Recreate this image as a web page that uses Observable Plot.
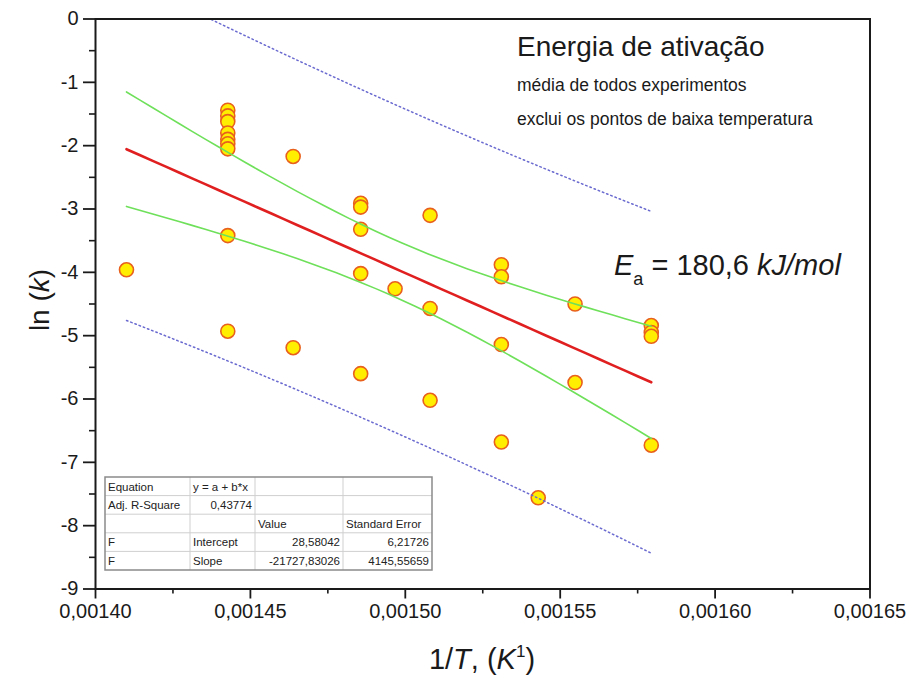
<!DOCTYPE html>
<html>
<head>
<meta charset="utf-8">
<script src="https://cdn.jsdelivr.net/npm/d3@7"></script>
<script src="https://cdn.jsdelivr.net/npm/@observablehq/plot@0.6"></script>
<style>
  html, body { margin: 0; padding: 0; background: #fff; }
  #chart svg { display: block; }
</style>
</head>
<body>
<div id="chart"></div>
<script>
// ---- data ----
const invT = [0.0014100, 0.0014427, 0.0014638, 0.0014856, 0.0014967, 0.0015080, 0.0015310, 0.0015429, 0.0015548, 0.0015794];
const lnK = [
  [-3.96],
  [-1.44, -1.53, -1.62, -1.80, -1.90, -1.97, -2.05, -3.42, -4.93],
  [-2.17, -5.19],
  [-2.91, -2.97, -3.32, -4.02, -5.60],
  [-4.26],
  [-3.10, -4.57, -6.02],
  [-3.88, -4.07, -5.14, -6.68],
  [-7.56],
  [-4.50, -5.74],
  [-4.84, -4.95, -5.01, -6.73]
];
const fitParams = ["Intercept", "Slope"];
const fitValues = [28.58042, -21727.83026];
const fitErrors = [6.21726, 4145.55659];
const adjR2 = 0.43774;
const xMajor = [0.00140, 0.00145, 0.00150, 0.00155, 0.00160, 0.00165];
const xMinor = [0.001425, 0.001475, 0.001525, 0.001575, 0.001625];
const yMajor = [0, -1, -2, -3, -4, -5, -6, -7, -8, -9];
const yMinor = [-0.5, -1.5, -2.5, -3.5, -4.5, -5.5, -6.5, -7.5, -8.5];
const tCrit = 2.042; // 95%, df = 30

// ---- derived ----
const points = invT.flatMap((x, i) => lnK[i].map(y => ({x, y})));
const n = points.length;
const [a, b] = fitValues;
const xbar = d3.mean(points, d => d.x);
const Sxx = d3.sum(points, d => (d.x - xbar) ** 2);
const s = Math.sqrt(d3.sum(points, d => (d.y - (a + b * d.x)) ** 2) / (n - 2));
const xMin = d3.min(invT), xMax = d3.max(invT);
const xs = d3.range(0, 41).map(i => xMin + (xMax - xMin) * i / 40);
const band = xs.map(x => {
  const yh = a + b * x;
  const c = tCrit * s * Math.sqrt(1 / n + (x - xbar) ** 2 / Sxx);
  const p = tCrit * s * Math.sqrt(1 + 1 / n + (x - xbar) ** 2 / Sxx);
  return {x, yh, cl: yh - c, cu: yh + c, pl: yh - p, pu: yh + p};
});

const font = "'Liberation Sans', Arial, sans-serif";
const fmtX = d => d3.format(".5f")(d).replace(".", ",");

const plot = Plot.plot({
  width: 915,
  height: 684,
  marginLeft: 95,
  marginRight: 45.5,
  marginTop: 18.5,
  marginBottom: 95.5,
  style: {fontFamily: font, fontSize: "20px", color: "#1a1a1a", background: "#fff"},
  x: {domain: [0.0014, 0.00165]},
  y: {domain: [-9, 0]},
  marks: [
    Plot.axisX({ticks: xMinor, tickSize: 5, tickFormat: () => "", label: null, strokeWidth: 1.6}),
    Plot.axisX({ticks: xMajor, tickSize: 10, tickPadding: 5, tickFormat: fmtX, label: null, fontSize: 20, strokeWidth: 1.8}),
    Plot.axisY({ticks: yMinor, tickSize: 6, tickFormat: () => "", label: null, strokeWidth: 1.6}),
    Plot.axisY({ticks: yMajor, tickSize: 12, tickPadding: 5, tickFormat: d => String(d), label: null, fontSize: 20, strokeWidth: 1.8}),
    Plot.dot(points, {x: "x", y: "y", r: 7, fill: "#ffee00", stroke: "#e8601c", strokeWidth: 1.6}),
    Plot.line(band, {x: "x", y: "pu", stroke: "#6a6ad0", strokeWidth: 1.5, strokeDasharray: "1.5,3", clip: true}),
    Plot.line(band, {x: "x", y: "pl", stroke: "#6a6ad0", strokeWidth: 1.5, strokeDasharray: "1.5,3", clip: true}),
    Plot.line(band, {x: "x", y: "cu", stroke: "#6ee05a", strokeWidth: 1.6}),
    Plot.line(band, {x: "x", y: "cl", stroke: "#6ee05a", strokeWidth: 1.6}),
    Plot.line(band, {x: "x", y: "yh", stroke: "#e02020", strokeWidth: 2.6}),
    Plot.frame({stroke: "#1a1a1a", strokeWidth: 2})
  ]
});

const svg = d3.select(plot);

// axis titles
const yT = svg.append("text")
  .attr("transform", "translate(49,300) rotate(-90)")
  .attr("text-anchor", "middle")
  .attr("font-family", font).attr("font-size", 28).attr("fill", "#1a1a1a");
yT.append("tspan").text("ln (");
yT.append("tspan").attr("font-style", "italic").text("k");
yT.append("tspan").text(")");

const xT = svg.append("text")
  .attr("x", 482).attr("y", 669)
  .attr("text-anchor", "middle")
  .attr("font-family", font).attr("font-size", 29).attr("fill", "#1a1a1a");
xT.append("tspan").text("1/");
xT.append("tspan").attr("font-style", "italic").text("T");
xT.append("tspan").text(", (");
xT.append("tspan").attr("font-style", "italic").text("K");
xT.append("tspan").attr("font-size", 17).attr("dy", -12).text("1");
xT.append("tspan").attr("dy", 12).text(")");

// annotations
svg.append("text").attr("x", 517).attr("y", 56).attr("text-anchor", "start")
  .attr("font-family", font).attr("font-size", 28).attr("fill", "#1a1a1a")
  .text("Energia de ativação");
svg.append("text").attr("x", 517).attr("y", 91).attr("text-anchor", "start")
  .attr("font-family", font).attr("font-size", 17.5).attr("fill", "#1a1a1a")
  .text("média de todos experimentos");
svg.append("text").attr("x", 517).attr("y", 125).attr("text-anchor", "start")
  .attr("font-family", font).attr("font-size", 17.5).attr("fill", "#1a1a1a")
  .text("exclui os pontos de baixa temperatura");

const ea = svg.append("text").attr("x", 614).attr("y", 275).attr("text-anchor", "start")
  .attr("font-family", font).attr("font-size", 29).attr("fill", "#1a1a1a");
ea.append("tspan").attr("font-style", "italic").text("E");
ea.append("tspan").attr("font-size", 18).attr("dy", 10).text("a");
ea.append("tspan").attr("dy", -10).text(" = 180,6 ");
ea.append("tspan").attr("font-style", "italic").text("kJ/mol");

// results table
const tbl = svg.append("g").attr("font-family", font).attr("font-size", 11.5).attr("fill", "#222");
const colX = [105, 190, 255, 343, 432];
const rowH = 18.6;
const y0 = 477;
const fmt5 = v => d3.format(".5f")(v).replace(".", ",").replace("−", "-");
const rows = [
  [["Equation", "l"], ["y = a + b*x", "l"], ["", "l"], ["", "l"]],
  [["Adj. R-Square", "l"], [fmt5(adjR2), "r"], ["", "l"], ["", "l"]],
  [["", "l"], ["", "l"], ["Value", "l"], ["Standard Error", "l"]],
  [["F", "l"], [fitParams[0], "l"], [fmt5(fitValues[0]), "r"], [fmt5(fitErrors[0]), "r"]],
  [["F", "l"], [fitParams[1], "l"], [fmt5(fitValues[1]), "r"], [fmt5(fitErrors[1]), "r"]]
];
tbl.append("rect").attr("x", colX[0]).attr("y", y0).attr("width", colX[4] - colX[0]).attr("height", rowH * 5)
  .attr("fill", "#fff").attr("stroke", "none");
for (let r = 1; r < 5; r++) {
  tbl.append("line").attr("x1", colX[0]).attr("x2", colX[4]).attr("y1", y0 + r * rowH).attr("y2", y0 + r * rowH)
    .attr("stroke", "#cfcfcf").attr("stroke-width", 1);
}
for (let c = 1; c < 4; c++) {
  tbl.append("line").attr("x1", colX[c]).attr("x2", colX[c]).attr("y1", y0).attr("y2", y0 + 5 * rowH)
    .attr("stroke", "#cfcfcf").attr("stroke-width", 1);
}
tbl.append("rect").attr("x", colX[0]).attr("y", y0).attr("width", colX[4] - colX[0]).attr("height", rowH * 5)
  .attr("fill", "none").attr("stroke", "#8a8a8a").attr("stroke-width", 1.5);
rows.forEach((row, r) => row.forEach(([t, al], c) => {
  if (!t) return;
  tbl.append("text")
    .attr("x", al === "l" ? colX[c] + 3 : colX[c + 1] - 3)
    .attr("y", y0 + r * rowH + 13.5)
    .attr("text-anchor", al === "l" ? "start" : "end")
    .text(t);
}));

document.getElementById("chart").appendChild(plot);
</script>
</body>
</html>
